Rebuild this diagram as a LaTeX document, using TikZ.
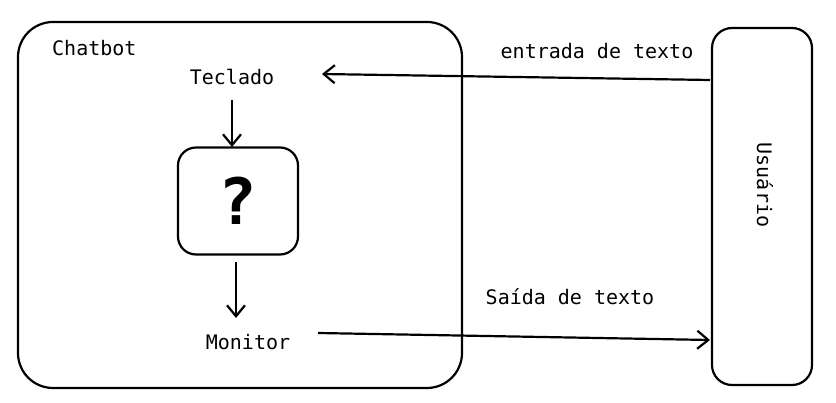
\documentclass[tikz,border=0pt]{standalone}
\usepackage{fontspec}
\setmainfont{DejaVu Sans Mono}
\usetikzlibrary{arrows.meta}
\tikzset{
  lbl/.style={font=\fontsize{20}{24}\selectfont, inner sep=0pt},
  box/.style={draw, line width=2.2pt, rounded corners=#1},
  arr/.style={draw, line width=2.2pt, -{Straight Barb[length=11pt,width=18pt]}}
}
\begin{document}
\begin{tikzpicture}[x=1pt,y=-1pt]
\useasboundingbox (0,0) rectangle (836,403);
\draw[box=35] (18,22) rectangle (462,388);
\node[lbl, anchor=west] (chat) at (52,48) {Chatbot};
\node[lbl] (tec) at (232,77) {Teclado};
\node[box=18, minimum width=120pt, minimum height=107pt, font=\fontsize{64}{68}\selectfont\bfseries] (q) at (238,201) {?};
\node[lbl] (mon) at (248,342) {Monitor};
\node[box=20, minimum width=100pt, minimum height=357pt] (usr) at (762,206.5) {};
\node[lbl, rotate=-90] (usrt) at (765,185) {Usuário};
\node[lbl] (ent) at (597,51) {entrada de texto};
\node[lbl] (sai) at (570,297) {Saída de texto};
\coordinate (a1) at (710,80);
\coordinate (a2) at (322,74);
\coordinate (b1) at (318,333);
\coordinate (b2) at (710,340);
\coordinate (t1) at (232,100);
\coordinate (t2) at (232,147);
\coordinate (m1) at (236,262);
\coordinate (m2) at (236,318);
\draw[arr] (a1) -- (a2);
\draw[arr] (b1) -- (b2);
\draw[arr] (t1) -- (t2);
\draw[arr] (m1) -- (m2);
\end{tikzpicture}
\end{document}
